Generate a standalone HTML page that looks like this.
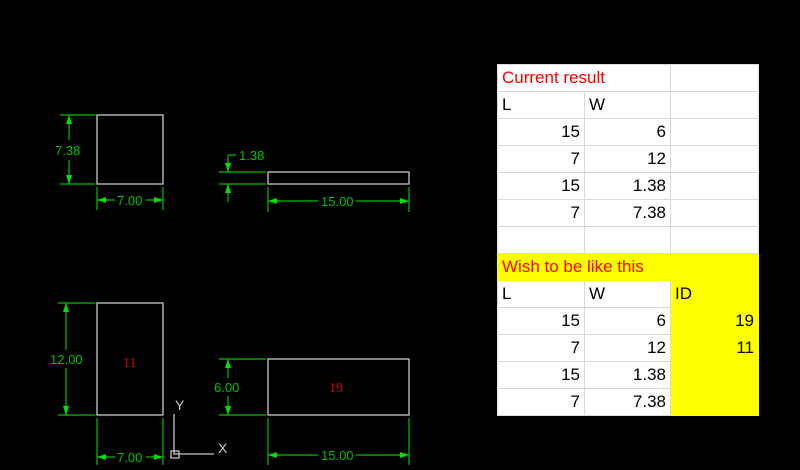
<!DOCTYPE html>
<html><head><style>
body{margin:0;background:#000;width:800px;height:470px;overflow:hidden;position:relative;font-family:"Liberation Sans",sans-serif}
svg{position:absolute;left:0;top:0}
.t{position:absolute;left:497px;top:64px;border-collapse:collapse;background:#fff;font-family:"Liberation Sans",sans-serif;font-size:17px;color:#000}
.t td{border:1px solid #d9d9d9;height:27px;padding:0 4px;box-sizing:border-box;white-space:nowrap}
.r{text-align:right}.y{background:#ff0}.red{color:#f00}
</style></head><body>
<svg width="800" height="470" font-family="Liberation Sans, sans-serif">
<g fill="none" stroke="#c8c8c8" stroke-width="1.3">
<rect x="97" y="115" width="66" height="69"/>
<rect x="268" y="172" width="141" height="12"/>
<rect x="97" y="303" width="66" height="112"/>
<rect x="268" y="359" width="141" height="56"/>
<path d="M174 414V454H214M171 451h8v7h-8z"/>
</g>
<g fill="none" stroke="#00c000" stroke-width="1.2">
<path d="M60 115H95M60 184H95M69 115V140M69 160V184"/>
<path d="M97 187V210M163 187V210M97 200H115M146 200H163"/>
<path d="M219 172H266M219 184H266M228 155V172M228 155H236M228 184V202"/>
<path d="M268 187V212M409 187V212M268 201H318M356 201H409"/>
<path d="M58 303H95M58 415H95M66 303V350M66 368V415"/>
<path d="M97 418V465M163 418V465M97 457H115M146 457H163"/>
<path d="M219 359H266M219 415H266M228 359V378M228 396V415"/>
<path d="M268 418V465M409 418V465M268 455H318M356 455H409"/>
</g>
<g fill="#00e000">
<path d="M69 115l-3 9h6zM69 184l-3-9h6zM97 200l9-3v6zM163 200l-9-3v6zM228 172l-3-9h6zM228 184l-3 9h6zM268 201l9-3v6zM409 201l-9-3v6zM66 303l-3 9h6zM66 415l-3-9h6zM97 457l9-3v6zM163 457l-9-3v6zM228 359l-3 9h6zM228 415l-3-9h6zM268 455l9-3v6zM409 455l-9-3v6z"/>
</g>
<g fill="#00c000" font-size="13">
<text x="55" y="155">7.38</text>
<text x="117" y="205">7.00</text>
<text x="239" y="160">1.38</text>
<text x="321" y="206">15.00</text>
<text x="50" y="364">12.00</text>
<text x="117" y="462">7.00</text>
<text x="214" y="392">6.00</text>
<text x="321" y="460">15.00</text>
</g>
<g fill="#d00000" font-size="14" font-family="Liberation Serif, serif"><text x="123" y="367">11</text><text x="329" y="392">19</text></g>
<g fill="#c8c8c8" font-size="14"><text x="175" y="410">Y</text><text x="218" y="453">X</text></g>
</svg>
<table class="t">
<colgroup><col style="width:87px"><col style="width:86px"><col style="width:88px"></colgroup>
<tr><td colspan="2" class="red">Current result</td><td></td></tr>
<tr><td>L</td><td>W</td><td></td></tr>
<tr><td class="r">15</td><td class="r">6</td><td></td></tr>
<tr><td class="r">7</td><td class="r">12</td><td></td></tr>
<tr><td class="r">15</td><td class="r">1.38</td><td></td></tr>
<tr><td class="r">7</td><td class="r">7.38</td><td></td></tr>
<tr><td></td><td></td><td></td></tr>
<tr><td colspan="3" class="y red" style="border-color:#ff0">Wish to be like this</td></tr>
<tr><td>L</td><td>W</td><td class="y" style="border-color:#ff0">ID</td></tr>
<tr><td class="r">15</td><td class="r">6</td><td class="y r" style="border-color:#ff0">19</td></tr>
<tr><td class="r">7</td><td class="r">12</td><td class="y r" style="border-color:#ff0">11</td></tr>
<tr><td class="r">15</td><td class="r">1.38</td><td class="y" style="border-color:#ff0"></td></tr>
<tr><td class="r">7</td><td class="r">7.38</td><td class="y" style="border-color:#ff0"></td></tr>
</table>
</body></html>
